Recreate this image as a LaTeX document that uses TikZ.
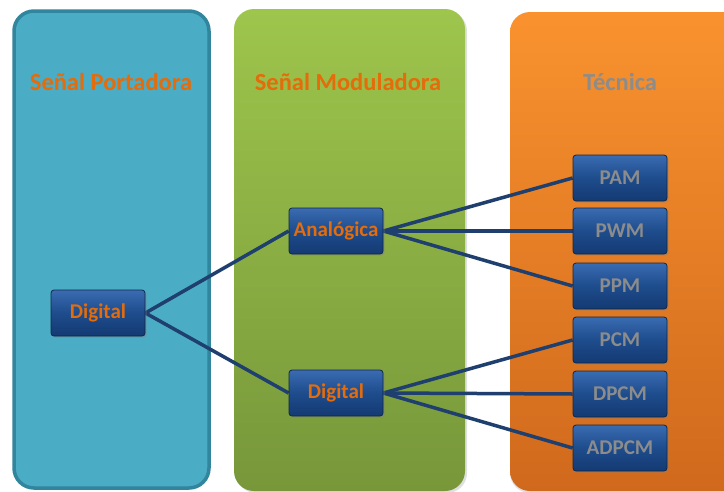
\documentclass[tikz,border=0pt]{standalone}
\usepackage{fontspec}
\setmainfont{Carlito}
\usetikzlibrary{shadows}
\definecolor{pblue}{HTML}{4BACC6}
\definecolor{pblueb}{HTML}{31859C}
\definecolor{pgreenT}{HTML}{9EC54C}
\definecolor{pgreenB}{HTML}{77973A}
\definecolor{porT}{HTML}{F9922E}
\definecolor{porB}{HTML}{D0691C}
\definecolor{ttl}{HTML}{E46C0A}
\definecolor{tgray}{HTML}{8C8C8C}
\definecolor{boxT}{HTML}{3A6CB2}
\definecolor{boxM}{HTML}{1E4C8C}
\definecolor{boxB}{HTML}{143A72}
\definecolor{boxD}{HTML}{0E2748}
\definecolor{wire}{HTML}{1F3F6E}
\pgfdeclarelayer{bg}
\pgfsetlayers{bg,main}
\tikzset{
  x=1pt, y=-1pt,
  panel/.style={rounded corners=20pt},
  title/.style={font=\bfseries\fontsize{24.5}{28}\selectfont, text=ttl},
  techbox/.style={draw=boxD, line width=0.8pt, rounded corners=3pt,
     top color=boxT, bottom color=boxB, middle color=boxM,
     minimum width=94pt, minimum height=46pt,
     inner sep=0pt, font=\bfseries\fontsize{21}{24}\selectfont,
     drop shadow={shadow xshift=1.5pt, shadow yshift=-1.5pt, opacity=0.4}},
  modbox/.style={techbox, text=ttl},
  tecbox/.style={techbox, text=tgray},
  wireline/.style={draw=wire, line width=3.5pt},
}
\begin{document}
\begin{tikzpicture}
\useasboundingbox (0,0) rectangle (724,491);
% boxes
\node[modbox] (dig) at (98,313) {Digital};
\node[modbox] (ana) at (336,231) {Analógica};
\node[modbox] (digm) at (336,393) {Digital};
\node[tecbox] (pam) at (620,178) {PAM};
\node[tecbox] (pwm) at (620,231) {PWM};
\node[tecbox] (ppm) at (620,286) {PPM};
\node[tecbox] (pcm) at (620,340) {PCM};
\node[tecbox] (dpcm) at (620,394) {DPCM};
\node[tecbox] (adpcm) at (620,448) {ADPCM};
\begin{pgfonlayer}{bg}
\fill[white] (0,0) rectangle (724,491);
% panels
\filldraw[panel, fill=pblue, draw=pblueb, line width=3.5pt] (14,11) rectangle (209,488);
\shade[panel, top color=pgreenT, bottom color=pgreenB,
  drop shadow={shadow xshift=2pt, shadow yshift=-2pt, opacity=0.25}] (234,9) rectangle (465,491);
\shade[panel, top color=porT, bottom color=porB,
  drop shadow={shadow xshift=0pt, shadow yshift=-2pt, opacity=0.25}] (510,12) rectangle (760,491);
% titles
\node[title] (t1) at (111,82) {Señal Portadora};
\node[title] (t2) at (348,82) {Señal Moduladora};
\node[title, text=tgray] (t3) at (620,82) {Técnica};
% connectors
\draw[wireline] (dig.east) -- (ana.west);
\draw[wireline] (dig.east) -- (digm.west);
\draw[wireline] (ana.east) -- (pam.west);
\draw[wireline] (ana.east) -- (pwm.west);
\draw[wireline] (ana.east) -- (ppm.west);
\draw[wireline] (digm.east) -- (pcm.west);
\draw[wireline] (digm.east) -- (dpcm.west);
\draw[wireline] (digm.east) -- (adpcm.west);
\end{pgfonlayer}
\end{tikzpicture}
\end{document}
